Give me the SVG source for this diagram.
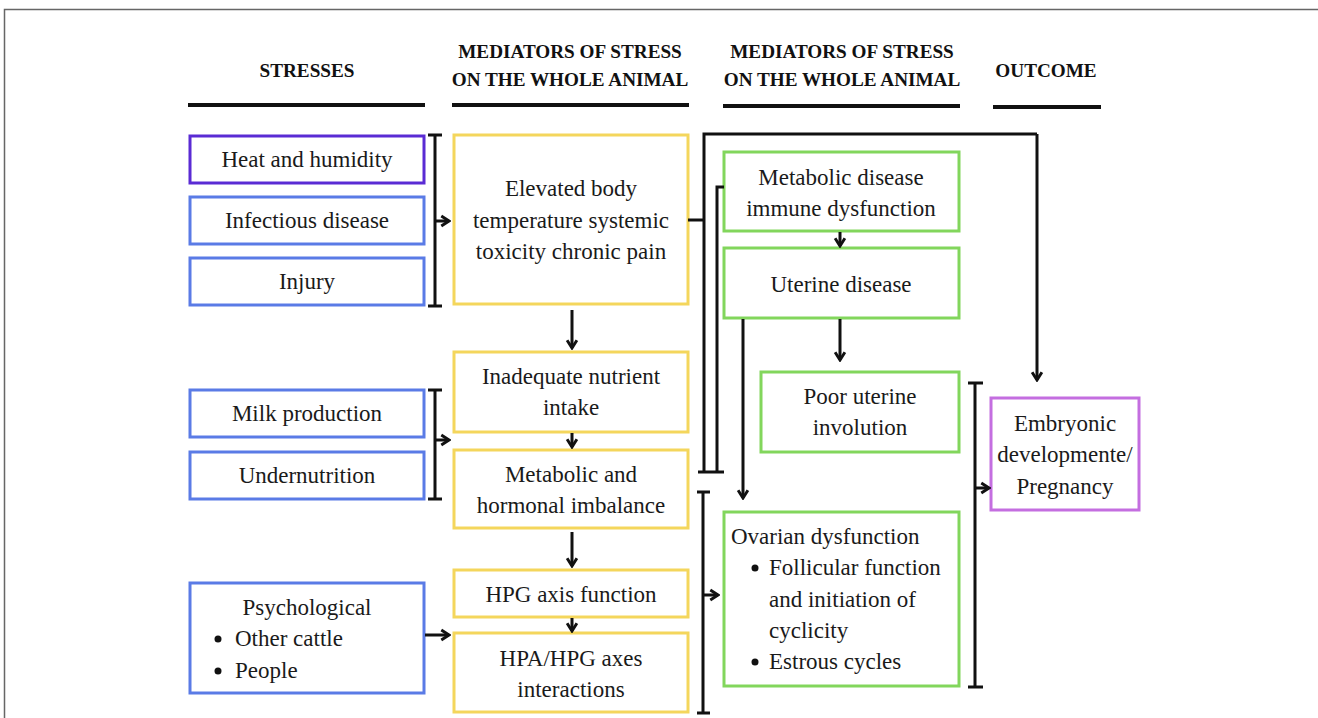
<svg xmlns="http://www.w3.org/2000/svg" width="1318" height="718" viewBox="0 0 1318 718">
  <style>
    .hd { font-family: "Liberation Serif", "Times New Roman", serif; font-weight: bold; font-size: 19.2px; fill: #111; text-anchor: middle; }
    .t { font-family: "Liberation Serif", "Times New Roman", serif; font-size: 23px; fill: #1a1a1a; text-anchor: middle; }
    .tl { font-family: "Liberation Serif", "Times New Roman", serif; font-size: 23px; fill: #1a1a1a; }
    .box { fill: #fff; stroke-width: 3; }
    .stress { stroke: #5a7be6; }
    .heat { stroke: #5a2bd4; }
    .med { stroke: #f4d65c; }
    .loc { stroke: #82d65c; }
    .out { stroke: #c46ee0; }
    .rule { stroke: #111; stroke-width: 4; }
    .c { fill: none; stroke: #111; stroke-width: 3; }
    .a { fill: none; stroke: #111; stroke-width: 3; marker-end: url(#arr); }
  </style>
  <defs>
    <marker id="arr" viewBox="0 0 10 10" refX="8.5" refY="5" markerWidth="14" markerHeight="14" markerUnits="userSpaceOnUse" orient="auto">
      <path d="M3,1.5 L8.5,5 L3,8.5" fill="none" stroke="#111" stroke-width="2.1" stroke-linejoin="miter"/>
    </marker>
  </defs>

  <rect width="1318" height="718" fill="#fff"/>
  <!-- outer frame -->
  <path d="M4.5,718 V9.5 H1318" fill="none" stroke="#666" stroke-width="1.5"/>

  <!-- column headings -->
  <g id="headings">
    <text class="hd" x="307" y="77">STRESSES</text>
    <text class="hd" x="570" y="58">MEDIATORS OF STRESS</text>
    <text class="hd" x="570" y="86">ON THE WHOLE ANIMAL</text>
    <text class="hd" x="842" y="58">MEDIATORS OF STRESS</text>
    <text class="hd" x="842" y="86">ON THE WHOLE ANIMAL</text>
    <text class="hd" x="1046" y="77">OUTCOME</text>
    <line class="rule" x1="188" y1="105" x2="425" y2="105"/>
    <line class="rule" x1="452" y1="105" x2="689" y2="105"/>
    <line class="rule" x1="723" y1="106" x2="960" y2="106"/>
    <line class="rule" x1="993" y1="107" x2="1101" y2="107"/>
  </g>

  <!-- stresses -->
  <g id="heat">
    <rect class="box heat" x="190" y="136" width="234" height="47"/>
    <text class="t" x="307" y="167">Heat and humidity</text>
  </g>
  <g id="infectious">
    <rect class="box stress" x="190" y="197" width="234" height="47"/>
    <text class="t" x="307" y="228">Infectious disease</text>
  </g>
  <g id="injury">
    <rect class="box stress" x="190" y="258" width="234" height="47"/>
    <text class="t" x="307" y="289">Injury</text>
  </g>
  <g id="milk">
    <rect class="box stress" x="190" y="390" width="234" height="47"/>
    <text class="t" x="307" y="421">Milk production</text>
  </g>
  <g id="undernutrition">
    <rect class="box stress" x="190" y="452" width="234" height="47"/>
    <text class="t" x="307" y="483">Undernutrition</text>
  </g>
  <g id="psychological">
    <rect class="box stress" x="190" y="583" width="234" height="110"/>
    <text class="t" x="307" y="615">Psychological</text>
    <circle cx="218" cy="639" r="3.5" fill="#111"/>
    <text class="tl" x="235" y="646">Other cattle</text>
    <circle cx="218" cy="671" r="3.5" fill="#111"/>
    <text class="tl" x="235" y="678">People</text>
  </g>

  <!-- whole-animal mediators -->
  <g id="elevated">
    <rect class="box med" x="454" y="135" width="234" height="169"/>
    <text class="t" x="571" y="196">Elevated body</text>
    <text class="t" x="571" y="228">temperature systemic</text>
    <text class="t" x="571" y="259">toxicity chronic pain</text>
  </g>
  <g id="nutrient">
    <rect class="box med" x="454" y="352" width="234" height="80"/>
    <text class="t" x="571" y="384">Inadequate nutrient</text>
    <text class="t" x="571" y="415">intake</text>
  </g>
  <g id="imbalance">
    <rect class="box med" x="454" y="450" width="234" height="78"/>
    <text class="t" x="571" y="482">Metabolic and</text>
    <text class="t" x="571" y="513">hormonal imbalance</text>
  </g>
  <g id="hpg">
    <rect class="box med" x="454" y="570" width="234" height="47"/>
    <text class="t" x="571" y="602">HPG axis function</text>
  </g>
  <g id="hpa-hpg">
    <rect class="box med" x="454" y="633" width="234" height="79"/>
    <text class="t" x="571" y="666">HPA/HPG axes</text>
    <text class="t" x="571" y="697">interactions</text>
  </g>

  <!-- reproductive-tract mediators -->
  <g id="metabolic-disease">
    <rect class="box loc" x="724" y="152" width="235" height="79"/>
    <text class="t" x="841" y="185">Metabolic disease</text>
    <text class="t" x="841" y="216">immune dysfunction</text>
  </g>
  <g id="uterine">
    <rect class="box loc" x="724" y="248" width="235" height="70"/>
    <text class="t" x="841" y="292">Uterine disease</text>
  </g>
  <g id="involution">
    <rect class="box loc" x="761" y="372" width="198" height="80"/>
    <text class="t" x="860" y="404">Poor uterine</text>
    <text class="t" x="860" y="435">involution</text>
  </g>
  <g id="ovarian">
    <rect class="box loc" x="724" y="512" width="235" height="174"/>
    <text class="tl" x="731" y="544">Ovarian dysfunction</text>
    <circle cx="755" cy="568" r="3.5" fill="#111"/>
    <text class="tl" x="769" y="575">Follicular function</text>
    <text class="tl" x="769" y="607">and initiation of</text>
    <text class="tl" x="769" y="638">cyclicity</text>
    <circle cx="755" cy="662" r="3.5" fill="#111"/>
    <text class="tl" x="769" y="669">Estrous cycles</text>
  </g>

  <!-- outcome -->
  <g id="pregnancy">
    <rect class="box out" x="991" y="398" width="148" height="112"/>
    <text class="t" x="1065" y="431">Embryonic</text>
    <text class="t" x="1065" y="462">developmente/</text>
    <text class="t" x="1065" y="494">Pregnancy</text>
  </g>

  <!-- connectors -->
  <g id="connectors">
    <!-- bracket: heat, infection, injury -->
    <path class="c" d="M428,135 H442 M435,135 V306 M428,306 H442"/>
    <path class="a" d="M435,221 H449"/>
    <!-- bracket: milk, undernutrition -->
    <path class="c" d="M428,390 H442 M435,390 V499 M428,499 H442"/>
    <path class="a" d="M435,440 H449"/>
    <!-- psychological -->
    <path class="a" d="M425,635 H449"/>

    <!-- mediator chain -->
    <path class="a" d="M572,310 V348"/>
    <path class="a" d="M572,433 V447"/>
    <path class="a" d="M572,532 V566"/>
    <path class="a" d="M572,618 V631"/>

    <!-- elevated body temperature branch -->
    <path class="c" d="M688,220 H704"/>
    <path class="c" d="M704,472 V134 H1037"/>
    <path class="a" d="M1037,134 V380"/>
    <path class="c" d="M724,187 H717 V472"/>
    <path class="c" d="M698,472 H724"/>

    <!-- tract chain -->
    <path class="a" d="M840,232 V246"/>
    <path class="a" d="M840,319 V360"/>
    <path class="a" d="M743,319 V498"/>

    <!-- bracket: imbalance, hpg, hpa into ovarian -->
    <path class="c" d="M697,492 H710 M703,492 V713 M697,713 H710"/>
    <path class="a" d="M703,595 H718"/>

    <!-- bracket: involution, ovarian into outcome -->
    <path class="c" d="M968,383 H983 M975,383 V687 M968,687 H983"/>
    <path class="a" d="M975,488 H989"/>
  </g>
</svg>
